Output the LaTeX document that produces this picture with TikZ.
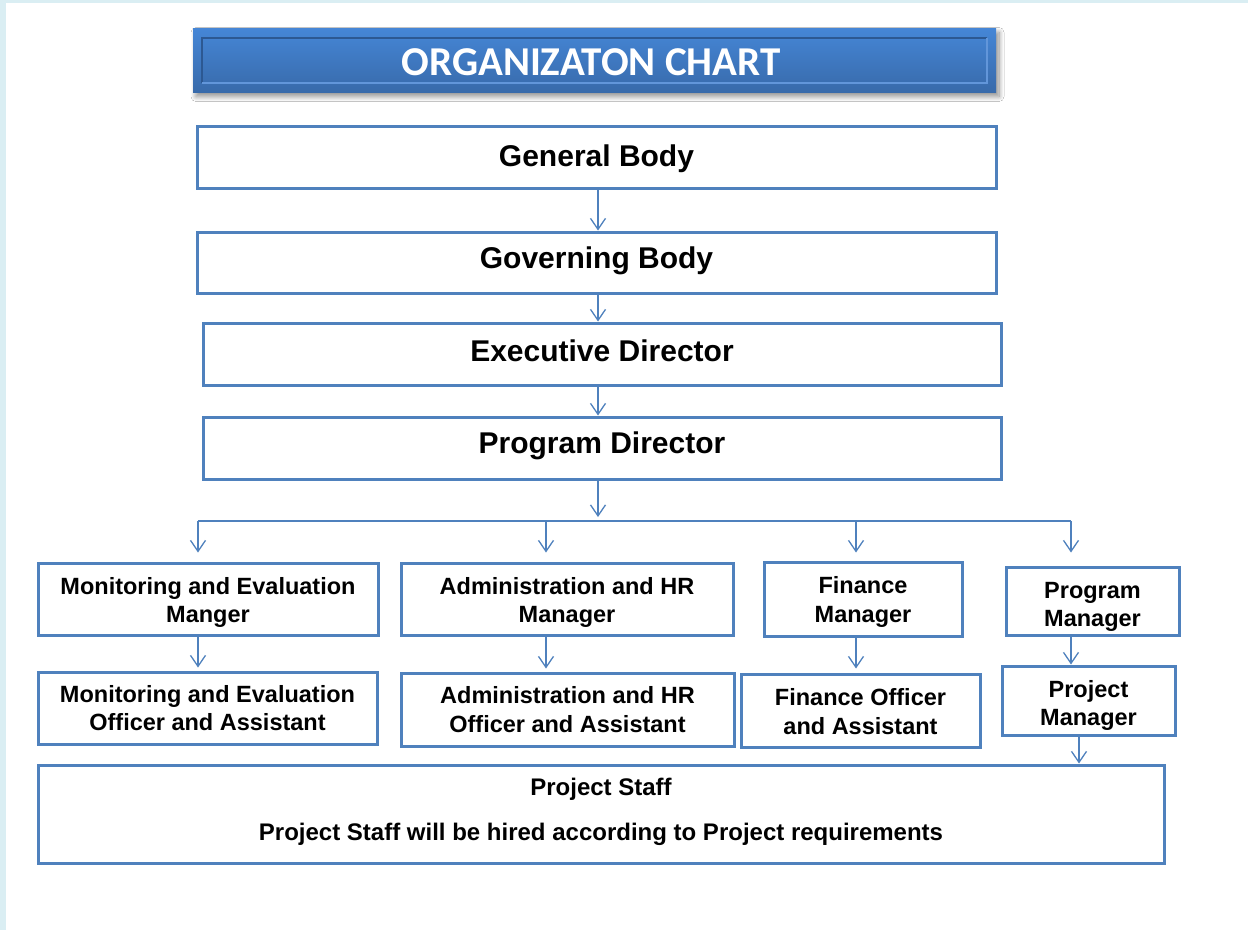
\documentclass[tikz,border=0pt]{standalone}
\usepackage{fontspec}
\setmainfont{Liberation Sans}
\newfontfamily\titlefont{Carlito}
\usetikzlibrary{arrows.meta,shadows.blur,calc}
\definecolor{bgblue}{RGB}{218,238,243}
\definecolor{boxblue}{RGB}{79,129,189}
\definecolor{ttop}{RGB}{69,134,214}
\definecolor{tbot}{RGB}{56,106,170}
\definecolor{bevdark}{RGB}{44,88,146}
\definecolor{bevlight}{RGB}{98,150,218}
\newcommand\myrule[1]{\rule{0pt}{#1}}
\tikzset{
  bigbox/.style={draw=boxblue, line width=3pt, fill=white, inner sep=0pt, align=center,
    font=\bfseries\fontsize{30}{36}\selectfont},
  midbox/.style={draw=boxblue, line width=3pt, fill=white, inner sep=0pt, align=center,
    font=\bfseries\fontsize{23.5}{28.5}\selectfont},
  tdn/.style={execute at begin node={\rule{0pt}{#1}}},
  tup/.style={execute at end node={\rule[-#1]{0pt}{0pt}}},
  titlebox/.style={top color=ttop, bottom color=tbot, draw=none, inner sep=0pt,
    blur shadow={shadow xshift=3pt, shadow yshift=-4pt, shadow blur steps=10,
      shadow blur radius=5pt, shadow opacity=45}},
  arr/.style={draw=boxblue, line width=1.3pt, -{Straight Barb[length=11pt,width=15pt,line width=1.3pt]}},
  bus/.style={draw=boxblue, line width=1.3pt}
}
\begin{document}
\begin{tikzpicture}[x=1pt,y=-1pt]
\useasboundingbox (0,0) rectangle (1248,930);
\fill[bgblue] (0,0) rectangle (1248,930);
\fill[white] (6,3) rectangle (1248,930);

% title banner
\node[titlebox, minimum width=803pt, minimum height=64pt] (title) at (594.5,60.5) {};
\draw[bevdark, line width=2pt] ($(title.south west)+(9,-10)$) -- ($(title.north west)+(9,10)$) -- ($(title.north east)+(-9,10)$);
\draw[bevlight, line width=2pt] ($(title.north east)+(-9,10)$) -- ($(title.south east)+(-9,-10)$) -- ($(title.south west)+(9,-10)$);
\node[text=white, font=\titlefont\bfseries\fontsize{41}{45}\selectfont, inner sep=0pt] (ttext) at (591,62) {ORGANIZATON CHART};

% top chain
\node[bigbox, tdn=26pt, minimum width=799pt, minimum height=62pt] (gen) at (596.5,157) {General Body};
\node[bigbox, tup=10.5pt, minimum width=799pt, minimum height=61pt] (gov) at (596.5,262.5) {Governing Body};
\node[bigbox, tup=6pt, minimum width=798pt, minimum height=62pt] (exd) at (602,354) {Executive Director};
\node[bigbox, tup=10.5pt, minimum width=798pt, minimum height=62pt] (prd) at (602,448) {Program Director};

\coordinate (spine) at (598,0);
\draw[arr] (gen.south -| spine) -- (gov.north -| spine);
\draw[arr] (gov.south -| spine) -- (exd.north -| spine);
\draw[arr] (exd.south -| spine) -- (prd.north -| spine);
\coordinate (busin) at (598,517);
\draw[arr] (prd.south -| spine) -- (busin);

% managers
\node[midbox, minimum width=340pt, minimum height=72pt] (mem) at (208,599) {\myrule{24pt}Monitoring and Evaluation\\Manger};
\node[midbox, minimum width=332pt, minimum height=72pt] (adm) at (567,599) {\myrule{24pt}Administration and HR\\Manager};
\node[midbox, minimum width=198pt, minimum height=74pt] (fin) at (863,599) {\myrule{23pt}Finance\\Manager};
\node[midbox, minimum width=173pt, minimum height=68pt] (prm) at (1092.5,601) {\myrule{28pt}Program\\Manager};

% officers
\node[midbox, minimum width=339pt, minimum height=72pt] (meo) at (207.5,708) {Monitoring and Evaluation\\Officer and Assistant};
\node[midbox, minimum width=333pt, minimum height=73pt] (ado) at (567.5,709.5) {Administration and HR\\Officer and Assistant};
\node[midbox, minimum width=239pt, minimum height=73pt] (fio) at (860.5,710.5) {\myrule{19pt}Finance Officer\\and Assistant};
\node[midbox, minimum width=173pt, minimum height=69pt] (pjm) at (1088.5,700.5) {\myrule{27pt}Project\\Manager};

% project staff
\node[midbox, tup=9pt, minimum width=1126pt, minimum height=98pt, font=\bfseries\fontsize{24}{28}\selectfont] (stf) at (601,814)
  {\raisebox{4pt}{Project Staff}\\[13pt]Project Staff will be hired according to Project requirements};

% bus
\coordinate (busL) at (198,521);
\coordinate (busR) at (1071,521);
\coordinate (busA) at (546,521);
\coordinate (busF) at (856,521);
\draw[bus] (busL) -- (busR);
\draw[arr, shorten >=9pt] (busL) -- (busL |- mem.north);
\draw[arr, shorten >=9pt] (busA) -- (busA |- adm.north);
\draw[arr, shorten >=8pt] (busF) -- (busF |- fin.north);
\draw[arr, shorten >=13pt] (busR) -- (busR |- prm.north);

% manager -> officer
\draw[arr, shorten >=3pt] (busL |- mem.south) -- (busL |- meo.north);
\draw[arr, shorten >=3pt] (busA |- adm.south) -- (busA |- ado.north);
\draw[arr, shorten >=4pt] (busF |- fin.south) -- (busF |- fio.north);
\draw[arr] (busR |- prm.south) -- (busR |- pjm.north);
\coordinate (pjx) at (1079,0);
\draw[arr] (pjm.south -| pjx) -- (stf.north -| pjx);
\end{tikzpicture}
\end{document}
